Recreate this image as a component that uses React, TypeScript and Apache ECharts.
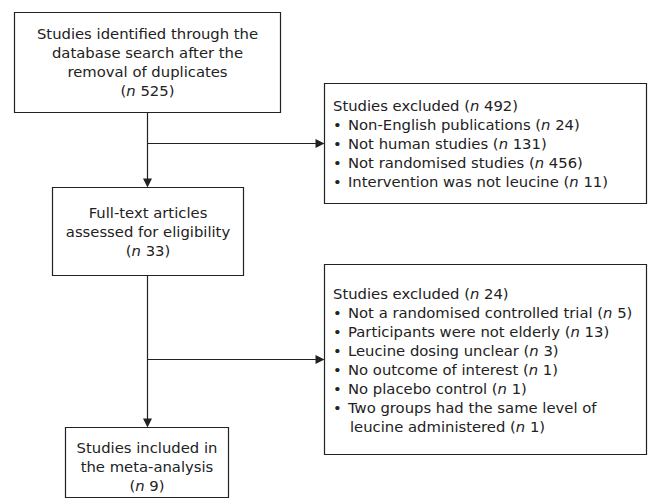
import React, { useEffect, useRef } from "react";
import * as echarts from "echarts";

// ---- data ----
const stepLabels: string[][] = [
  ["Studies identified through the", "database search after the", "removal of duplicates"],
  ["Full-text articles", "assessed for eligibility"],
  ["Studies included in", "the meta-analysis"],
];
const stepCounts: number[] = [525, 33, 9];

const exclusion1Title = "Studies excluded";
const exclusion1Total = 492;
const exclusion1Reasons: string[][] = [
  ["Non-English publications"],
  ["Not human studies"],
  ["Not randomised studies"],
  ["Intervention was not leucine"],
];
const exclusion1Counts: number[] = [24, 131, 456, 11];

const exclusion2Title = "Studies excluded";
const exclusion2Total = 24;
const exclusion2Reasons: string[][] = [
  ["Not a randomised controlled trial"],
  ["Participants were not elderly"],
  ["Leucine dosing unclear"],
  ["No outcome of interest"],
  ["No placebo control"],
  ["Two groups had the same level of", "leucine administered"],
];
const exclusion2Counts: number[] = [5, 13, 3, 1, 1, 1];

// ---- layout / style ----
const COLOR = "#222222";
const FONT = "DejaVu Sans";
const FS = 14.8;
const LH = 19;
const LW = 1.2;

const stepBoxes = [
  { x: 14, y: 12, w: 266, h: 100, firstLine: 33 },
  { x: 52, y: 187, w: 191, h: 88, firstLine: 212 },
  { x: 65, y: 427, w: 163, h: 70, firstLine: 447 },
];
const exclBoxes = [
  { x: 324, y: 83, w: 322, h: 120, firstLine: 105, arrowY: 143 },
  { x: 324, y: 264, w: 322, h: 190, firstLine: 293, arrowY: 359 },
];
const MAIN_X = 147;

function countText(n: number) {
  return "({i|n} " + n + ")";
}

function txt(x: number, y: number, text: string, align: string) {
  return {
    type: "text",
    x,
    y,
    silent: true,
    style: {
      text,
      fill: COLOR,
      fontFamily: FONT,
      fontSize: FS,
      align,
      verticalAlign: "middle",
      rich: {
        i: { fontStyle: "italic", fontFamily: FONT, fontSize: FS, fill: COLOR },
      },
    },
  };
}

function rect(b: { x: number; y: number; w: number; h: number }) {
  return {
    type: "rect",
    shape: { x: b.x + 0.5, y: b.y + 0.5, width: b.w, height: b.h },
    style: { fill: "#ffffff", stroke: COLOR, lineWidth: LW },
  };
}

function line(x1: number, y1: number, x2: number, y2: number) {
  return {
    type: "line",
    shape: { x1, y1, x2, y2 },
    style: { stroke: COLOR, lineWidth: LW },
  };
}

function arrowDown(x: number, tipY: number) {
  return {
    type: "polygon",
    shape: { points: [[x - 4.5, tipY - 9], [x + 4.5, tipY - 9], [x, tipY]] },
    style: { fill: COLOR },
  };
}
function arrowRight(tipX: number, y: number) {
  return {
    type: "polygon",
    shape: { points: [[tipX - 9, y - 4.5], [tipX - 9, y + 4.5], [tipX, y]] },
    style: { fill: COLOR },
  };
}

function buildGraphic() {
  const g: any[] = [];
  const mx = MAIN_X + 0.5;
  // connectors
  g.push(line(mx, stepBoxes[0].y + stepBoxes[0].h, mx, stepBoxes[1].y - 8));
  g.push(arrowDown(mx, stepBoxes[1].y + 0.5));
  g.push(line(mx, stepBoxes[1].y + stepBoxes[1].h, mx, stepBoxes[2].y - 8));
  g.push(arrowDown(mx, stepBoxes[2].y + 0.5));
  exclBoxes.forEach((b) => {
    g.push(line(mx, b.arrowY + 0.5, b.x - 8, b.arrowY + 0.5));
    g.push(arrowRight(b.x + 0.5, b.arrowY + 0.5));
  });

  // main step boxes
  stepBoxes.forEach((b, i) => {
    g.push(rect(b));
    const cx = b.x + b.w / 2 + 0.5;
    const lines = stepLabels[i];
    lines.forEach((l, j) => g.push(txt(cx, b.firstLine + j * LH, l, "center")));
    g.push(txt(cx, b.firstLine + lines.length * LH, countText(stepCounts[i]), "center"));
  });

  // exclusion boxes
  const excl = [
    { title: exclusion1Title, total: exclusion1Total, reasons: exclusion1Reasons, counts: exclusion1Counts },
    { title: exclusion2Title, total: exclusion2Total, reasons: exclusion2Reasons, counts: exclusion2Counts },
  ];
  excl.forEach((e, k) => {
    const b = exclBoxes[k];
    g.push(rect(b));
    const lx = b.x + 9;
    g.push(txt(lx, b.firstLine, e.title + " " + countText(e.total), "left"));
    let row = 1;
    e.reasons.forEach((r, j) => {
      const y0 = b.firstLine + row * LH;
      g.push(txt(lx, y0, "•", "left"));
      r.forEach((seg, s) => {
        const last = s === r.length - 1;
        const t = last ? seg + " " + countText(e.counts[j]) : seg;
        g.push(txt(lx + (s === 0 ? 15 : 17), b.firstLine + row * LH, t, "left"));
        row++;
      });
    });
  });
  return g;
}

export default function App() {
  const ref = useRef<HTMLDivElement>(null);
  useEffect(() => {
    document.body.style.margin = "0";
    const chart = echarts.init(ref.current!, undefined, { renderer: "svg" });
    chart.setOption({
      animation: false,
      backgroundColor: "#ffffff",
      graphic: buildGraphic(),
    });
    return () => chart.dispose();
  }, []);
  return <div ref={ref} style={{ width: 652, height: 502 }} />;
}
